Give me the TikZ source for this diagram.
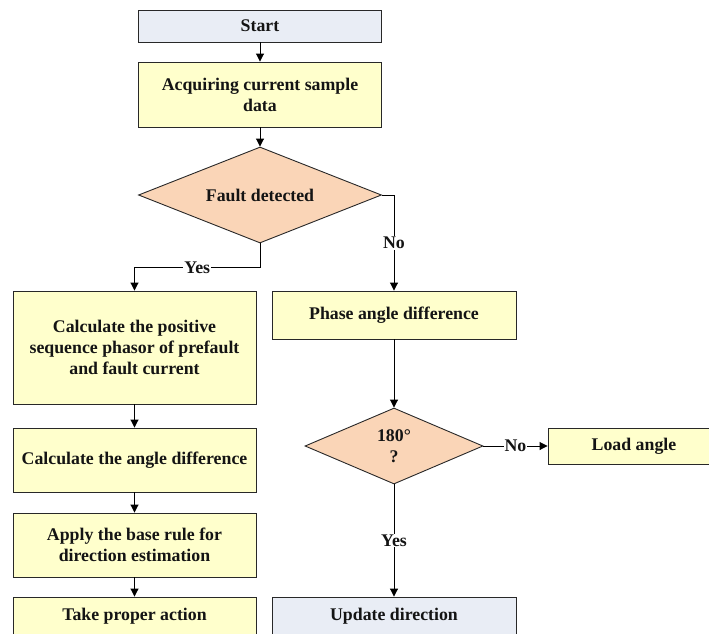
\documentclass[tikz,border=0pt]{standalone}
\usepackage{fontspec}
\setmainfont{Liberation Serif}
\usetikzlibrary{shapes.geometric,arrows.meta}
\definecolor{boxyellow}{RGB}{255,255,204}
\definecolor{boxblue}{RGB}{233,237,245}
\definecolor{dpeach}{RGB}{250,213,183}
\definecolor{edge}{RGB}{40,40,40}
\begin{document}
\begin{tikzpicture}[x=1pt,y=-1pt,
  base/.style={draw=edge,line width=0.9pt,inner sep=0pt,align=center,
    font=\fontsize{17.8}{21}\selectfont\bfseries,text=black!92},
  ybox/.style={base,rectangle,fill=boxyellow},
  bbox/.style={base,rectangle,fill=boxblue},
  dia/.style={base,diamond,fill=dpeach,shape aspect=2.5},
  arr/.style={draw=black,line width=0.9pt,-{Triangle[length=8pt,width=8pt]}},
  lbl/.style={fill=white,inner sep=1pt,font=\fontsize{17.8}{21}\selectfont\bfseries,text=black!92}]
\useasboundingbox (0,0) rectangle (709,633);
\clip (0,0) rectangle (709,633);
% right column
\node[bbox,minimum width=243pt,minimum height=32pt] (start) at (260,26) {Start};
\node[ybox,minimum width=243pt,minimum height=65pt] (acq) at (260,94.5) {Acquiring current sample\\data};
\node[dia,minimum width=243pt,minimum height=96pt] (fault) at (260,195) {Fault detected};
\node[ybox,minimum width=244pt,minimum height=48pt] (phase) at (394,315) {Phase angle difference};
\node[dia,minimum width=178pt,minimum height=76pt] (d180) at (394,446) {180°\\?};
\node[ybox,minimum width=172pt,minimum height=36pt] (load) at (634,446) {Load angle};
\node[bbox,minimum width=244pt,minimum height=56pt] (upd) at (394,625) {};
\node[base,draw=none,fill=none] (updt) at (394,616) {Update direction};
% left column
\node[ybox,minimum width=243pt,minimum height=113pt] (calc1) at (134.5,347.5) {Calculate the positive\\sequence phasor of prefault\\and fault current};
\node[ybox,minimum width=243pt,minimum height=64pt] (calc2) at (134.5,460) {Calculate the angle difference};
\node[ybox,minimum width=243pt,minimum height=64pt] (apply) at (134.5,545) {Apply the base rule for\\direction estimation};
\node[ybox,minimum width=243pt,minimum height=56pt] (take) at (134.5,625) {};
\node[base,draw=none,fill=none] (taket) at (134.5,616) {Take proper action};
% connectors
\draw[arr] (start) -- (acq);
\draw[arr] (acq) -- (fault);
\draw[arr] (fault.south) -- ++(0,24) -| node[pos=0.25,lbl]{Yes} (calc1.north);
\draw[arr] (fault.east) -| node[pos=0.75,lbl]{No} (phase.north);
\draw[arr] (phase) -- (d180);
\draw[arr] (d180.east) -- node[lbl]{No} (load.west);
\draw[arr] (d180.south) -- node[lbl]{Yes} (upd.north);
\draw[arr] (calc1) -- (calc2);
\draw[arr] (calc2) -- (apply);
\draw[arr] (apply) -- (take);
\end{tikzpicture}
\end{document}
